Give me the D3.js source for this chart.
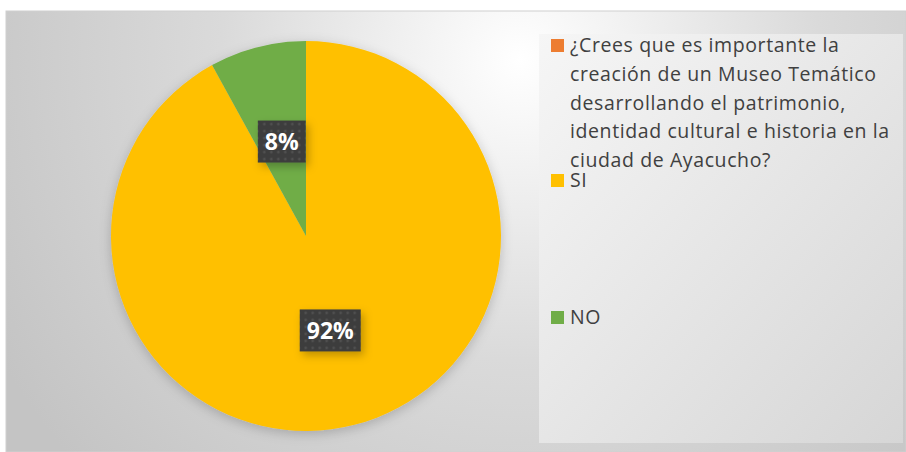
<!DOCTYPE html>
<html>
<head>
<meta charset="utf-8">
<script src="https://cdn.jsdelivr.net/npm/d3@7"></script>
<style>
  body { margin: 0; background: #fff; }
  svg { display: block; }
</style>
</head>
<body>
<div id="chart"></div>
<script>
// Data
const categories = [
  "¿Crees que es importante la creación de un Museo Temático desarrollando el patrimonio, identidad cultural e historia en la ciudad de Ayacucho?",
  "SI",
  "NO",
];
const values = [0, 92, 8];
const colors = ["#ED7D31", "#FFC000", "#70AD47"];

const data = categories.map((c, i) => ({ name: c, value: values[i], color: colors[i] }));

// Dimensions
const dimensions = { width: 906, height: 452 };

const svg = d3
  .select("#chart")
  .append("svg")
  .attr("width", dimensions.width)
  .attr("height", dimensions.height)
  .style("font-family", "'Open Sans', sans-serif");

const defs = svg.append("defs");

// background gradient
const bg = defs
  .append("radialGradient")
  .attr("id", "bg")
  .attr("gradientUnits", "userSpaceOnUse")
  .attr("cx", 520)
  .attr("cy", 60)
  .attr("r", 600);
bg.append("stop").attr("offset", "0%").attr("stop-color", "#ffffff");
bg.append("stop").attr("offset", "50%").attr("stop-color", "#dadada");
bg.append("stop").attr("offset", "100%").attr("stop-color", "#c4c4c4");

const legendBg = defs
  .append("linearGradient")
  .attr("id", "legendBg")
  .attr("x1", "0%").attr("y1", "0%")
  .attr("x2", "100%").attr("y2", "100%");
legendBg.append("stop").attr("offset", "0%").attr("stop-color", "#f6f6f6");
legendBg.append("stop").attr("offset", "100%").attr("stop-color", "#d6d6d6");

const shadow = defs.append("filter").attr("id", "shadow")
  .attr("x", "-20%").attr("y", "-20%").attr("width", "150%").attr("height", "150%");
shadow.append("feDropShadow")
  .attr("dx", 3).attr("dy", 4).attr("stdDeviation", 4)
  .attr("flood-color", "#000").attr("flood-opacity", 0.25);

const pieShadow = defs.append("filter").attr("id", "pieShadow")
  .attr("x", "-20%").attr("y", "-20%").attr("width", "140%").attr("height", "140%");
pieShadow.append("feDropShadow")
  .attr("dx", 0).attr("dy", 3).attr("stdDeviation", 6)
  .attr("flood-color", "#000").attr("flood-opacity", 0.2);

const dots = defs.append("pattern")
  .attr("id", "dots")
  .attr("patternUnits", "userSpaceOnUse")
  .attr("width", 7).attr("height", 7);
dots.append("rect").attr("width", 7).attr("height", 7).attr("fill", "#3d3d3d");
dots.append("circle").attr("cx", 3.5).attr("cy", 3.5).attr("r", 1.2).attr("fill", "#555");

// Chart area
svg.append("rect")
  .attr("x", 6).attr("y", 11)
  .attr("width", 900).attr("height", 441)
  .attr("fill", "url(#bg)")
  .attr("stroke", "#d0d0d0");

// Pie
const center = { x: 306, y: 236 };
const radius = 195;

const pie = d3.pie().sort(null).value((d) => d.value);
const arc = d3.arc().innerRadius(0).outerRadius(radius);
const arcs = pie(data).filter((d) => d.data.value > 0);

const ctr = svg.append("g").attr("transform", `translate(${center.x}, ${center.y})`);

ctr.append("g")
  .attr("filter", "url(#pieShadow)")
  .selectAll("path")
  .data(arcs)
  .join("path")
  .attr("d", arc)
  .attr("fill", (d) => d.data.color);

// Data labels
const total = d3.sum(values);
const labels = ctr.selectAll("g.label")
  .data(arcs)
  .join("g")
  .attr("class", "label")
  .attr("transform", (d) => `translate(${arc.centroid(d)})`);

labels.each(function (d) {
  const g = d3.select(this);
  const txt = `${Math.round((d.data.value / total) * 100)}%`;
  const rect = g.append("rect").attr("fill", "url(#dots)").attr("filter", "url(#shadow)");
  const t = g.append("text")
    .attr("text-anchor", "middle")
    .attr("dy", "0.36em")
    .attr("fill", "#fff")
    .attr("font-weight", "bold")
    .attr("font-size", 23)
    .text(txt);
  const w = t.node().getComputedTextLength() + 14;
  rect.attr("x", -w / 2).attr("y", -21).attr("width", w).attr("height", 42);
});

// Legend
svg.append("rect")
  .attr("x", 539).attr("y", 34)
  .attr("width", 364).attr("height", 409)
  .attr("fill", "url(#legendBg)");

const legendY = [39, 174, 311];
const lineHeight = 28.8;

function wrap(str, maxWidth, probe) {
  const words = str.split(" ");
  const lines = [];
  let line = "";
  words.forEach((w) => {
    const test = line ? line + " " + w : w;
    probe.text(test);
    if (probe.node().getComputedTextLength() > maxWidth && line) {
      lines.push(line);
      line = w;
    } else {
      line = test;
    }
  });
  lines.push(line);
  return lines;
}

const legend = svg.append("g")
  .attr("font-size", 19.5)
  .attr("letter-spacing", 0.6)
  .attr("fill", "#404040");

data.forEach((d, i) => {
  const g = legend.append("g").attr("transform", `translate(551, ${legendY[i]})`);
  g.append("rect").attr("width", 13).attr("height", 13).attr("fill", d.color);
  const text = g.append("text").attr("x", 19).attr("y", 13);
  const probe = legend.append("text").attr("opacity", 0);
  const lines = wrap(d.name, 330, probe);
  probe.remove();
  lines.forEach((l, j) => {
    text.append("tspan").attr("x", 19).attr("y", 13 + j * lineHeight).text(l);
  });
});
</script>
</body>
</html>
